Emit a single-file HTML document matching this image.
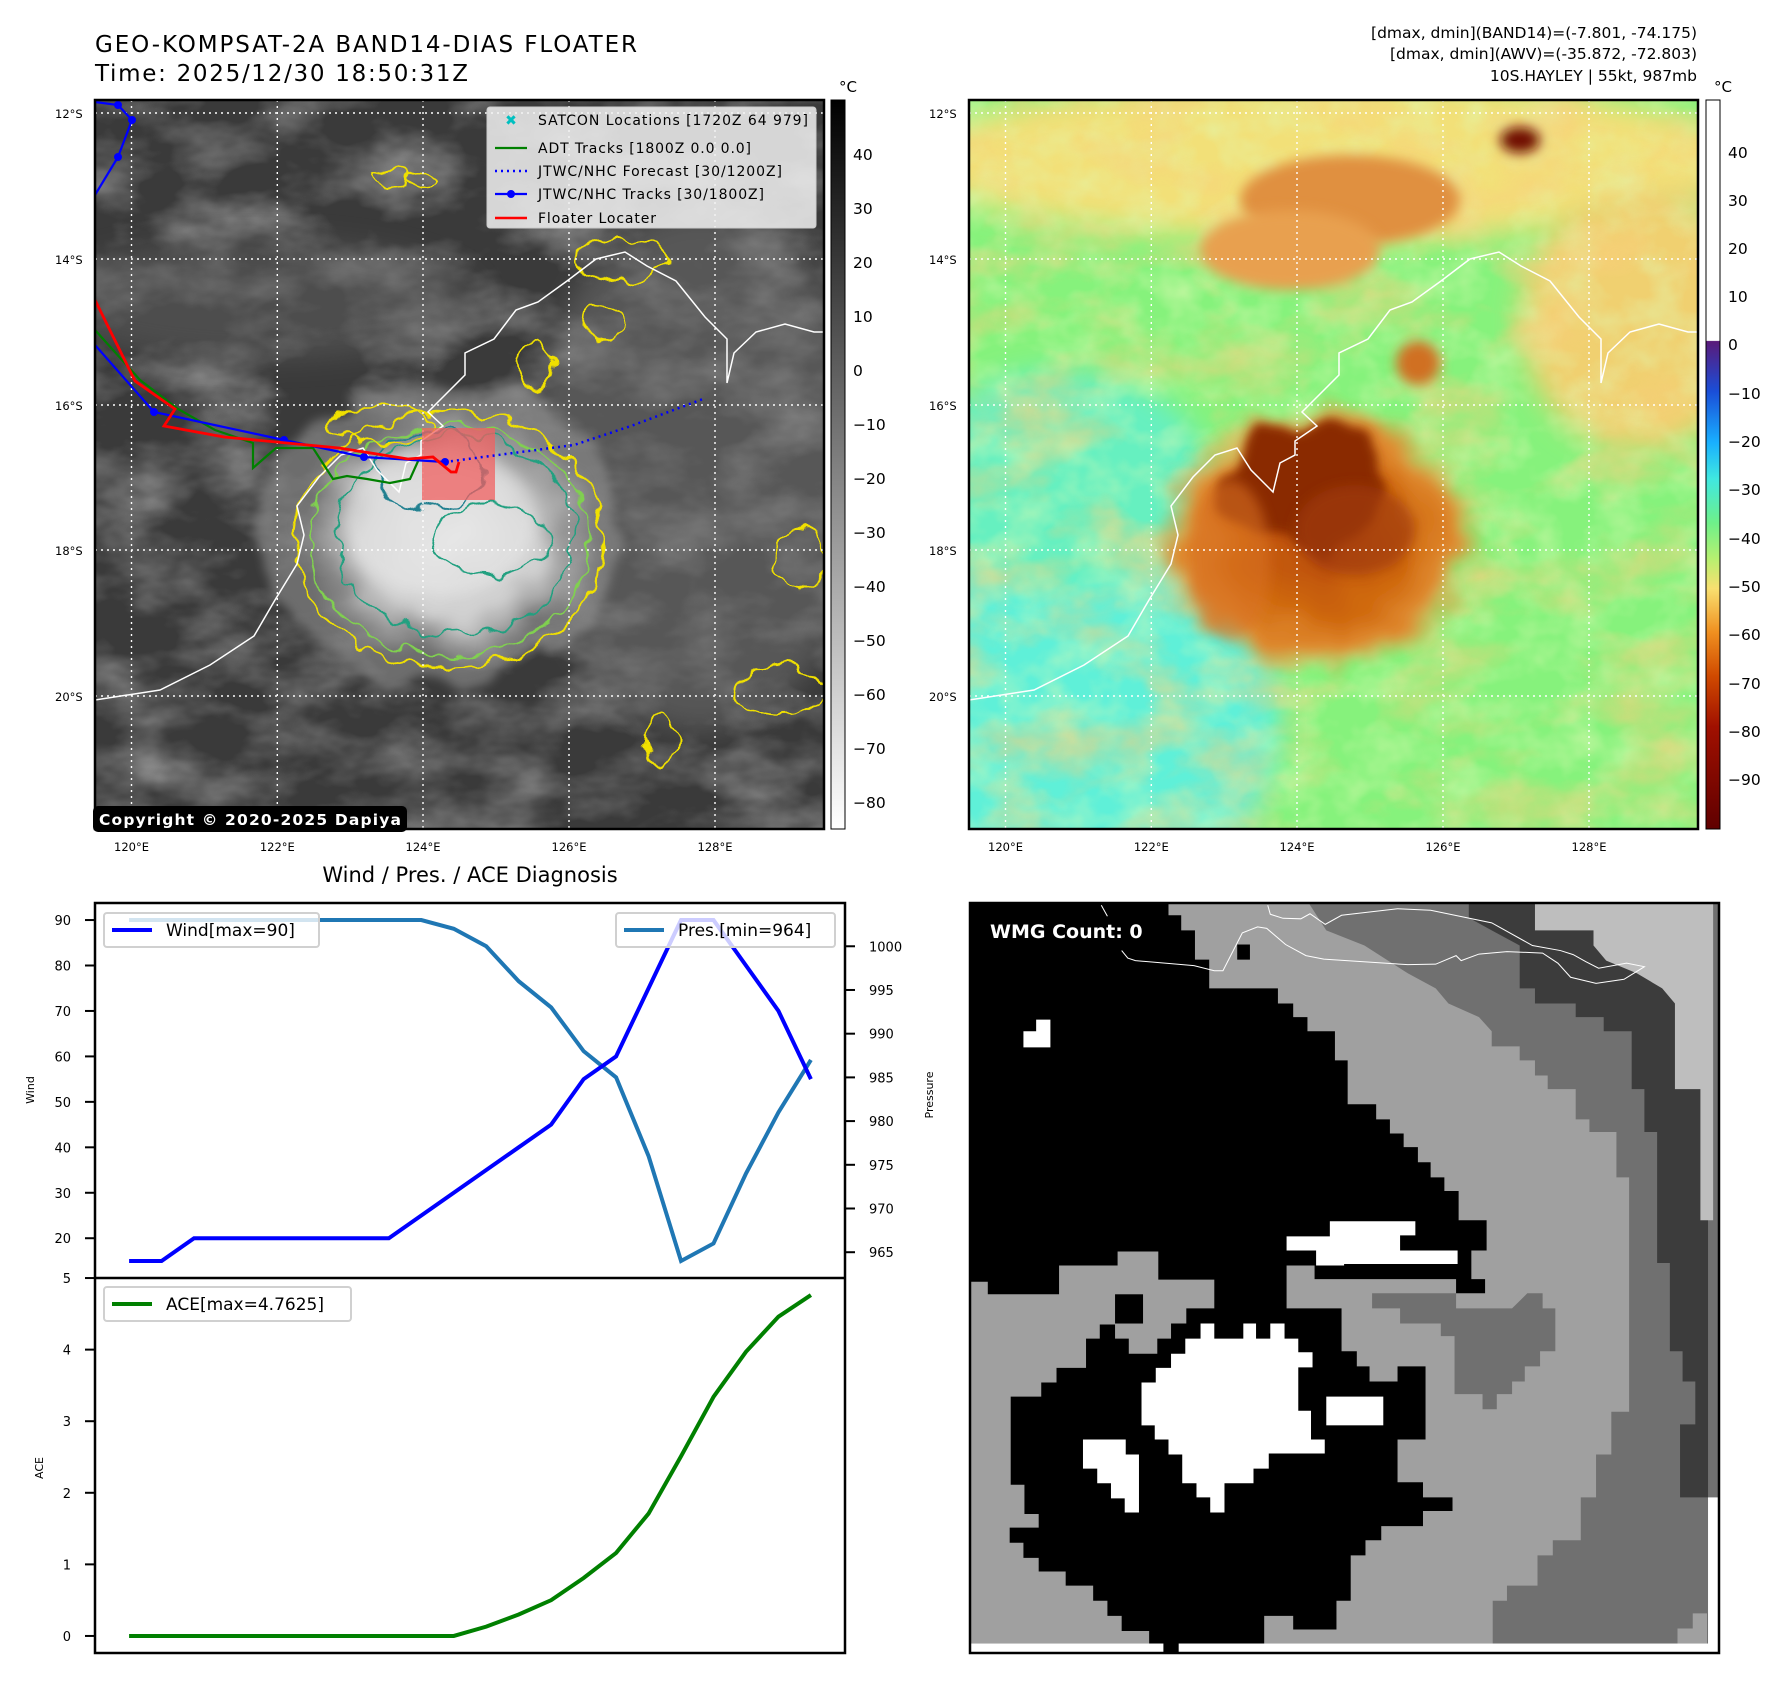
<!DOCTYPE html>
<html><head><meta charset="utf-8"><style>
html,body{margin:0;padding:0;background:#fff;}
svg{display:block;font-family:"DejaVu Sans","Liberation Sans",sans-serif;}
</style></head><body>
<svg id="root" width="1788" height="1690" viewBox="0 0 1788 1690" xmlns="http://www.w3.org/2000/svg">
<defs>
<clipPath id="cl"><rect x="95" y="100" width="729" height="729"/></clipPath>
<clipPath id="cr"><rect x="969" y="100" width="729" height="729"/></clipPath>
<filter id="noise" x="0" y="0" width="100%" height="100%"><feTurbulence type="fractalNoise" baseFrequency="0.011 0.02" numOctaves="4" seed="4"/><feColorMatrix type="matrix" values="0 0 0 0 1  0 0 0 0 1  0 0 0 0 1  1.6 0 0 0 -0.62"/></filter>
<filter id="noiseS" x="0" y="0" width="100%" height="100%"><feTurbulence type="fractalNoise" baseFrequency="0.03 0.04" numOctaves="3" seed="7"/><feColorMatrix type="matrix" values="0 0 0 0 0.55  0 0 0 0 0.55  0 0 0 0 0.55  1.4 0 0 0 -0.6"/></filter>
<filter id="noise2" x="0" y="0" width="100%" height="100%"><feTurbulence type="fractalNoise" baseFrequency="0.01 0.018" numOctaves="4" seed="9"/><feColorMatrix type="matrix" values="0 0 0 0 0.95  0 0 0 0 0.62  0 0 0 0 0.2  1.8 0 0 0 -0.78"/></filter>
<filter id="noise3" x="0" y="0" width="100%" height="100%"><feTurbulence type="fractalNoise" baseFrequency="0.025 0.03" numOctaves="3" seed="12"/><feColorMatrix type="matrix" values="0 0 0 0 0.75  0 0 0 0 0.95  0 0 0 0 0.45  1.6 0 0 0 -0.6"/></filter>
<filter id="blur" x="-50%" y="-50%" width="200%" height="200%"><feGaussianBlur stdDeviation="14"/></filter>
<filter id="blur2" x="-50%" y="-50%" width="200%" height="200%"><feGaussianBlur stdDeviation="6"/></filter>
<filter id="jag" x="-20%" y="-20%" width="140%" height="140%"><feTurbulence type="fractalNoise" baseFrequency="0.045" numOctaves="2" seed="2" result="t"/><feDisplacementMap in="SourceGraphic" in2="t" scale="22" xChannelSelector="R" yChannelSelector="G"/></filter>
<filter id="jagB" x="-60%" y="-60%" width="220%" height="220%"><feTurbulence type="fractalNoise" baseFrequency="0.02" numOctaves="2" seed="5" result="t"/><feDisplacementMap in="SourceGraphic" in2="t" scale="50" xChannelSelector="R" yChannelSelector="G" result="d"/><feGaussianBlur in="d" stdDeviation="5"/></filter>
<radialGradient id="stormL" cx="0.5" cy="0.5" r="0.5"><stop offset="0" stop-color="#e6e6e6"/><stop offset="0.6" stop-color="#cfcfcf"/><stop offset="1" stop-color="#b0b0b0" stop-opacity="0"/></radialGradient>
<radialGradient id="stormR" cx="0.5" cy="0.5" r="0.5"><stop offset="0" stop-color="#b84a08"/><stop offset="0.55" stop-color="#d06a10"/><stop offset="0.8" stop-color="#e08a30"/><stop offset="1" stop-color="#e8a040" stop-opacity="0"/></radialGradient>
<linearGradient id="cbL" x1="0" y1="0" x2="0" y2="1"><stop offset="0" stop-color="#000"/><stop offset="1" stop-color="#fff"/></linearGradient>
<linearGradient id="cbR" x1="0" y1="0" x2="0" y2="1">
<stop offset="0" stop-color="#fff"/><stop offset="0.33" stop-color="#fff"/><stop offset="0.331" stop-color="#5a1a7a"/>
<stop offset="0.40" stop-color="#1a4ed8"/><stop offset="0.47" stop-color="#19b0ff"/><stop offset="0.52" stop-color="#40e8e0"/>
<stop offset="0.58" stop-color="#6ef08a"/><stop offset="0.63" stop-color="#b8f070"/><stop offset="0.67" stop-color="#f8e070"/>
<stop offset="0.73" stop-color="#f09020"/><stop offset="0.79" stop-color="#d04a00"/><stop offset="0.86" stop-color="#a01000"/><stop offset="1" stop-color="#600000"/></linearGradient>
</defs>

<text x="95" y="52" font-size="23" textLength="542">GEO-KOMPSAT-2A BAND14-DIAS FLOATER</text>
<text x="95" y="81" font-size="23" textLength="373">Time: 2025/12/30 18:50:31Z</text>
<g font-size="15.5" text-anchor="end">
<text x="1697" y="38">[dmax, dmin](BAND14)=(-7.801, -74.175)</text>
<text x="1697" y="59">[dmax, dmin](AWV)=(-35.872, -72.803)</text>
<text x="1697" y="81">10S.HAYLEY | 55kt, 987mb</text>
</g>

<!-- LEFT MAP -->
<g clip-path="url(#cl)">
<rect x="95" y="100" width="729" height="729" fill="#3a3a3a"/>
<rect x="95" y="100" width="729" height="729" filter="url(#noise)" opacity="0.45"/>
<ellipse cx="700" cy="470" rx="170" ry="260" fill="#7a7a7a" opacity="0.45" filter="url(#blur)"/>
<ellipse cx="260" cy="300" rx="220" ry="60" fill="#6a6a6a" opacity="0.4" filter="url(#blur)"/>
<ellipse cx="440" cy="530" rx="185" ry="150" fill="#909090" opacity="0.6" filter="url(#jagB)"/>
<ellipse cx="448" cy="540" rx="150" ry="125" fill="url(#stormL)" filter="url(#jagB)"/>
<ellipse cx="440" cy="520" rx="95" ry="75" fill="#e8e8e8" opacity="0.5" filter="url(#blur2)"/>
<ellipse cx="448" cy="540" rx="190" ry="160" fill="#000" opacity="0" />
<g fill="none" filter="url(#jag)">
<ellipse cx="448" cy="540" rx="155" ry="128" stroke="#f0e000" stroke-width="2.2"/>
<ellipse cx="450" cy="540" rx="140" ry="115" stroke="#80d050" stroke-width="2"/>
<ellipse cx="455" cy="535" rx="120" ry="100" stroke="#20a080" stroke-width="2"/>
<ellipse cx="430" cy="470" rx="55" ry="40" stroke="#208090" stroke-width="2"/>
<ellipse cx="490" cy="540" rx="60" ry="35" stroke="#20a080" stroke-width="2"/>
<ellipse cx="620" cy="260" rx="45" ry="22" stroke="#f0e000" stroke-width="2"/>
<ellipse cx="800" cy="560" rx="25" ry="30" stroke="#f0e000" stroke-width="2"/>
<ellipse cx="780" cy="690" rx="45" ry="25" stroke="#f0e000" stroke-width="2"/>
<ellipse cx="660" cy="740" rx="15" ry="25" stroke="#f0e000" stroke-width="2"/>
<ellipse cx="535" cy="365" rx="20" ry="22" stroke="#f0e000" stroke-width="2"/>
<ellipse cx="605" cy="322" rx="18" ry="18" stroke="#f0e000" stroke-width="2"/>
<ellipse cx="390" cy="178" rx="18" ry="8" stroke="#f0e000" stroke-width="2"/>
<ellipse cx="420" cy="180" rx="14" ry="7" stroke="#f0e000" stroke-width="2"/>
<ellipse cx="380" cy="425" rx="50" ry="18" stroke="#f0e000" stroke-width="2"/>
</g>
<polyline fill="none" stroke="#fff" stroke-width="1.5" points="95,700 160,690 210,665 254,636 275,600 297,564 304,535 297,506 319,477 341,455 363,448 377,470 399,492 406,463 421,455 421,441 443,426 428,412 443,397 465,375 465,353 494,339 516,310 538,302 567,281 596,259 625,252 647,266 676,281 705,317 727,339 727,383 734,353 756,332 785,324 814,332 830,332"/>
<g stroke="#fff" stroke-width="1.4" stroke-dasharray="2,4">
<line x1="131.5" y1="100" x2="131.5" y2="829"/><line x1="277.3" y1="100" x2="277.3" y2="829"/><line x1="423" y1="100" x2="423" y2="829"/><line x1="569" y1="100" x2="569" y2="829"/><line x1="715" y1="100" x2="715" y2="829"/>
<line x1="95" y1="113" x2="824" y2="113"/><line x1="95" y1="259" x2="824" y2="259"/><line x1="95" y1="405" x2="824" y2="405"/><line x1="95" y1="550" x2="824" y2="550"/><line x1="95" y1="696" x2="824" y2="696"/>
</g>
<rect x="422" y="428" width="73" height="72" fill="#f06060" opacity="0.75"/>
<polyline fill="none" stroke="#008000" stroke-width="2.2" points="95,330 140,380 178,409 215,430 253,443 253,468 276,448 313,448 333,479 347,476 367,479 390,483 410,479 419,459"/>
<polyline fill="none" stroke="#0000ff" stroke-width="2.2" points="95,102 118,105 132,120 118,157 95,195"/>
<polyline fill="none" stroke="#0000ff" stroke-width="2.2" points="95,345 154,412 284,440 364,457 445,462"/>
<g fill="#0000ff"><circle cx="118" cy="105" r="4"/><circle cx="132" cy="120" r="4"/><circle cx="118" cy="157" r="4"/><circle cx="154" cy="412" r="4"/><circle cx="284" cy="440" r="4"/><circle cx="364" cy="457" r="4"/><circle cx="445" cy="462" r="4"/></g>
<polyline fill="none" stroke="#0000ff" stroke-width="2.5" stroke-dasharray="2,4" points="445,462 574,445 631,426 703,399"/>
<polyline fill="none" stroke="#ff0000" stroke-width="2.8" points="95,300 135,381 175,409 164,426 224,437 339,448 408,459 433,457 451,472 456,472 459,462"/>
</g>
<rect x="95" y="100" width="729" height="729" fill="none" stroke="#000" stroke-width="2.5"/>
<rect x="93" y="806" width="314" height="26" rx="5" fill="#000"/>
<text x="99" y="825" font-size="15.5" font-weight="bold" fill="#fff" textLength="302">Copyright © 2020-2025 Dapiya</text>
<g>
<rect x="487" y="107" width="329" height="121" rx="3" fill="#f2f2f2" fill-opacity="0.85" stroke="#ccc"/>
<g font-size="14">
<text x="511" y="125" fill="#00c0c0" font-size="14" text-anchor="middle">✖</text>
<text x="538" y="125" textLength="270">SATCON Locations [1720Z 64 979]</text>
<line x1="495" y1="148" x2="527" y2="148" stroke="#008000" stroke-width="2.2"/>
<text x="538" y="153" textLength="213">ADT Tracks [1800Z 0.0 0.0]</text>
<line x1="495" y1="171" x2="527" y2="171" stroke="#0000ff" stroke-width="2.5" stroke-dasharray="2,4"/>
<text x="538" y="176" textLength="244">JTWC/NHC Forecast [30/1200Z]</text>
<line x1="495" y1="194" x2="527" y2="194" stroke="#0000ff" stroke-width="2.2"/><circle cx="511" cy="194" r="4" fill="#0000ff"/>
<text x="538" y="199" textLength="226">JTWC/NHC Tracks [30/1800Z]</text>
<line x1="495" y1="218" x2="527" y2="218" stroke="#ff0000" stroke-width="2.5"/>
<text x="538" y="223" textLength="118">Floater Locater</text>
</g></g>
<g font-size="11.5">
<text x="55" y="118">12°S</text><text x="55" y="264">14°S</text><text x="55" y="410">16°S</text><text x="55" y="555">18°S</text><text x="55" y="701">20°S</text>
<g text-anchor="middle"><text x="131.5" y="851">120°E</text><text x="277.3" y="851">122°E</text><text x="423" y="851">124°E</text><text x="569" y="851">126°E</text><text x="715" y="851">128°E</text></g>
</g>
<rect x="831" y="100" width="14" height="729" fill="url(#cbL)" stroke="#000" stroke-width="1"/>
<text x="839" y="92" font-size="15">°C</text>
<g font-size="15.5">
<text x="853" y="160">40</text><text x="853" y="214">30</text><text x="853" y="268">20</text><text x="853" y="322">10</text><text x="853" y="376">0</text>
<text x="853" y="430">−10</text><text x="853" y="484">−20</text><text x="853" y="538">−30</text><text x="853" y="592">−40</text><text x="853" y="646">−50</text>
<text x="853" y="700">−60</text><text x="853" y="754">−70</text><text x="853" y="808">−80</text></g>

<!-- RIGHT MAP -->
<g clip-path="url(#cr)">
<rect x="969" y="100" width="729" height="729" fill="#86f27c"/>
<ellipse cx="1020" cy="720" rx="260" ry="220" fill="#5ef0d8" filter="url(#blur)"/>
<ellipse cx="1060" cy="480" rx="150" ry="110" fill="#66f0c0" filter="url(#blur)"/>
<ellipse cx="1330" cy="160" rx="420" ry="80" fill="#f2e078" filter="url(#blur)"/>
<ellipse cx="1640" cy="320" rx="120" ry="130" fill="#f0d070" filter="url(#blur)"/>
<rect x="969" y="100" width="729" height="729" filter="url(#noise3)" opacity="0.6"/>
<rect x="969" y="100" width="729" height="729" filter="url(#noise2)" opacity="0.8"/>
<ellipse cx="1350" cy="200" rx="110" ry="45" fill="#e09040" filter="url(#blur2)"/>
<ellipse cx="1290" cy="250" rx="90" ry="40" fill="#e8a050" filter="url(#blur2)"/>
<ellipse cx="1520" cy="140" rx="20" ry="13" fill="#700800" filter="url(#blur2)"/>
<ellipse cx="1418" cy="363" rx="22" ry="22" fill="#d07020" filter="url(#blur2)"/>
<ellipse cx="1320" cy="540" rx="165" ry="135" fill="url(#stormR)" filter="url(#jagB)"/>
<ellipse cx="1300" cy="485" rx="80" ry="60" fill="#8a2a04" filter="url(#jagB)"/>
<ellipse cx="1355" cy="530" rx="60" ry="45" fill="#a03a08" opacity="0.7" filter="url(#blur2)"/>
<ellipse cx="1230" cy="560" rx="40" ry="80" fill="#d87020" opacity="0.6" filter="url(#blur2)"/>
<polyline fill="none" stroke="#fff" stroke-width="1.5" points="969,700 1034,690 1084,665 1128,636 1149,600 1171,564 1178,535 1171,506 1193,477 1215,455 1237,448 1251,470 1273,492 1280,463 1295,455 1295,441 1317,426 1302,412 1317,397 1339,375 1339,353 1368,339 1390,310 1412,302 1441,281 1470,259 1499,252 1521,266 1550,281 1579,317 1601,339 1601,383 1608,353 1630,332 1659,324 1688,332 1704,332"/>
<g stroke="#fff" stroke-width="1.4" stroke-dasharray="2,4">
<line x1="1005.5" y1="100" x2="1005.5" y2="829"/><line x1="1151.3" y1="100" x2="1151.3" y2="829"/><line x1="1297" y1="100" x2="1297" y2="829"/><line x1="1443" y1="100" x2="1443" y2="829"/><line x1="1589" y1="100" x2="1589" y2="829"/>
<line x1="969" y1="113" x2="1698" y2="113"/><line x1="969" y1="259" x2="1698" y2="259"/><line x1="969" y1="405" x2="1698" y2="405"/><line x1="969" y1="550" x2="1698" y2="550"/><line x1="969" y1="696" x2="1698" y2="696"/>
</g></g>
<rect x="969" y="100" width="729" height="729" fill="none" stroke="#000" stroke-width="2.5"/>
<g font-size="11.5">
<text x="929" y="118">12°S</text><text x="929" y="264">14°S</text><text x="929" y="410">16°S</text><text x="929" y="555">18°S</text><text x="929" y="701">20°S</text>
<g text-anchor="middle"><text x="1005.5" y="851">120°E</text><text x="1151.3" y="851">122°E</text><text x="1297" y="851">124°E</text><text x="1443" y="851">126°E</text><text x="1589" y="851">128°E</text></g>
</g>
<rect x="1706" y="100" width="14" height="729" fill="url(#cbR)" stroke="#000" stroke-width="1"/>
<text x="1714" y="92" font-size="15">°C</text>
<g font-size="15.5">
<text x="1728" y="158">40</text><text x="1728" y="206">30</text><text x="1728" y="254">20</text><text x="1728" y="302">10</text><text x="1728" y="350">0</text>
<text x="1728" y="399">−10</text><text x="1728" y="447">−20</text><text x="1728" y="495">−30</text><text x="1728" y="544">−40</text><text x="1728" y="592">−50</text>
<text x="1728" y="640">−60</text><text x="1728" y="689">−70</text><text x="1728" y="737">−80</text><text x="1728" y="785">−90</text></g>

<!-- WMG panel -->
<g>
<g transform="translate(959.8,880) scale(0.509,0.504)">
<rect x="20" y="45" width="1472" height="1490" fill="#a0a0a0"/>
<polygon fill="#707070" points="685,45 720,100 795,130 880,185 935,215 960,245 1020,272 1045,300 1045,330 1100,330 1100,358 1130,358 1130,388 1155,388 1155,415 1210,415 1210,475 1237,475 1237,500 1290,500 1290,590 1315,590 1315,1055 1280,1055 1280,1140 1250,1140 1250,1225 1220,1225 1220,1310 1165,1310 1165,1340 1135,1340 1135,1400 1075,1400 1075,1430 1047,1430 1047,1515 1492,1515 1492,45"/>
<polygon fill="#3c3c3c" points="1000,45 1000,75 1045,100 1100,130 1100,215 1130,215 1130,245 1210,245 1210,272 1265,272 1265,300 1320,300 1320,415 1345,415 1345,500 1370,500 1370,760 1395,760 1395,935 1420,935 1420,995 1445,995 1445,1080 1415,1080 1415,1225 1470,1225 1470,45"/>
<polygon fill="#bebebe" points="1130,45 1130,100 1245,100 1245,130 1270,160 1330,185 1380,215 1405,245 1405,415 1455,415 1455,675 1480,675 1480,45"/>
<rect x="1470" y="1225" width="22" height="310" fill="#fff"/>
<polygon fill="#a0a0a0" points="1410,1515 1410,1485 1440,1485 1440,1455 1468,1455 1468,1515"/>
<rect x="20" y="1515" width="1472" height="20" fill="#fff"/>
<polygon fill="#707070" points="810,820 975,820 975,850 1085,850 1115,820 1145,820 1145,850 1170,850 1170,935 1140,935 1140,965 1110,965 1110,995 1085,995 1085,1020 1055,1020 1055,1050 1027,1050 1027,1020 972,1020 972,905 945,905 945,880 865,880 865,850 810,850"/>
<polygon fill="#000" points="20,45 410,45 410,70 435,70 435,100 462,100 462,158 490,158 490,215 625,215 625,245 655,245 655,272 683,272 683,300 737,300 737,358 762,358 762,445 818,445 818,475 845,475 845,503 872,503 872,530 900,530 900,560 925,560 925,590 952,590 952,617 980,617 980,675 1035,675 1035,735 1005,735 1005,792 1032,792 1032,820 975,820 975,792 697,792 697,765 642,765 642,850 750,850 750,935 780,935 780,965 805,965 805,995 860,995 860,965 915,965 915,1110 860,1110 860,1195 910,1195 910,1225 968,1225 968,1252 910,1252 910,1282 828,1282 828,1310 797,1310 797,1340 768,1340 768,1430 740,1430 740,1487 655,1487 655,1460 598,1460 598,1515 430,1515 430,1535 400,1535 400,1515 372,1515 372,1490 318,1490 318,1460 290,1460 290,1430 262,1430 262,1400 208,1400 208,1372 155,1372 155,1345 125,1345 125,1315 98,1315 98,1285 155,1285 155,1258 127,1258 127,1200 100,1200 100,1025 160,1025 160,997 190,997 190,968 248,968 248,910 275,910 275,882 305,882 305,910 332,910 332,940 388,940 388,910 415,910 415,880 445,880 445,850 500,850 500,793 390,793 390,737 310,737 310,765 195,765 195,822 55,822 55,797 20,797"/>
<rect x="305" y="822" width="55" height="58" fill="#000"/>
<rect x="545" y="128" width="25" height="30" fill="#000"/>
<g fill="#fff">
<polygon points="125,300 150,300 150,277 178,277 178,332 125,332"/>
<polygon points="727,677 895,677 895,705 865,705 865,735 978,735 978,762 755,762 755,765 700,765 700,735 642,735 642,707 727,707"/>
<polygon points="473,880 500,880 500,910 557,910 557,880 582,880 582,910 610,910 610,880 638,880 638,910 665,910 665,937 693,937 693,967 665,967 665,1053 690,1053 690,1110 717,1110 717,1138 607,1138 607,1168 577,1168 577,1197 520,1197 520,1255 492,1255 492,1225 465,1225 465,1197 437,1197 437,1140 410,1140 410,1110 383,1110 383,1082 357,1082 357,997 385,997 385,968 415,968 415,940 443,940 443,910 473,910"/>
<rect x="720" y="1025" width="112" height="57"/>
<polygon points="242,1110 326,1110 326,1140 352,1140 352,1255 324,1255 324,1227 297,1227 297,1197 270,1197 270,1168 242,1168"/>
</g>
<polyline fill="none" stroke="#fff" stroke-width="2" points="318,140 330,155 345,160 460,170 500,180 517,180 555,105 585,93 603,96 640,128 680,150 715,157 880,168 935,167 975,150 985,160 1020,147 1075,142 1145,145 1175,165 1200,193 1250,205 1305,197 1345,172 1310,165 1255,175 1230,162 1205,148 1180,140 1125,130 1045,85 925,60 860,57 750,70 718,88 688,67 670,77 635,76 610,68 605,50"/>
<polyline fill="none" stroke="#fff" stroke-width="2" points="278,50 290,72"/>
</g>
<text x="990" y="938" font-size="19" font-weight="bold" fill="#fff">WMG Count: 0</text>
<rect x="970" y="903" width="749" height="750" fill="none" stroke="#000" stroke-width="2.5"/>
</g>

<text x="470" y="882" font-size="21" text-anchor="middle">Wind / Pres. / ACE Diagnosis</text>
<g id="chart"></g>
</svg>
<script>
const windVals=[15,15,20,20,20,20,20,20,20,25,30,35,40,45,55,60,75,90,90,80,70,55];
const presVals=[1003,1003,1003,1003,1003,1003,1003,1003,1003,1003,1002,1000,996,993,988,985,976,964,966,974,981,987];
const aceVals=[0,0,0,0,0,0,0,0,0,0,0,0.13,0.3,0.5,0.81,1.16,1.71,2.51,3.34,3.97,4.46,4.7625];
const windTicks=[20,30,40,50,60,70,80,90];
const presTicks=[965,970,975,980,985,990,995,1000];
const aceTicks=[0,1,2,3,4,5];
const NS='http://www.w3.org/2000/svg';
const g=document.getElementById('chart');
const L=95,R=845,T1=903,B1=1278,T2=1278,B2=1653;
function mk(t,a,p){const e=document.createElementNS(NS,t);for(const k in a)e.setAttribute(k,a[k]);(p||g).appendChild(e);return e;}
function rng(v){const mn=Math.min(...v),mx=Math.max(...v),m=(mx-mn)*0.05;return [mn-m,mx+m];}
const n=windVals.length;const xm=(n-1)*0.05;
const X=i=>L+(i+xm)/((n-1)+2*xm)*(R-L);
const wr=rng(windVals),pr=rng(presVals),ar=rng(aceVals);
const Yw=v=>B1-(v-wr[0])/(wr[1]-wr[0])*(B1-T1);
const Yp=v=>B1-(v-pr[0])/(pr[1]-pr[0])*(B1-T1);
const Ya=v=>B2-(v-ar[0])/(ar[1]-ar[0])*(B2-T2);
function line(vals,Y,col,name){const e=mk('polyline',{points:vals.map((v,i)=>X(i)+','+Y(v)).join(' '),fill:'none',stroke:col,'stroke-width':4});

}
line(presVals,Yp,'#1f77b4','pressure-line');
line(windVals,Yw,'#0000ff','wind-line');
line(aceVals,Ya,'#008000','ace-line');
windTicks.forEach(t=>{const y=Yw(t);mk('line',{x1:L-10,x2:L,y1:y,y2:y,stroke:'#000','stroke-width':2});
const tx=mk('text',{x:L-24,y:y+5,'font-size':13,'text-anchor':'end'});tx.textContent=t;

});
presTicks.forEach(t=>{const y=Yp(t);mk('line',{x1:R,x2:R+10,y1:y,y2:y,stroke:'#000','stroke-width':2});
const tx=mk('text',{x:R+24,y:y+5,'font-size':13});tx.textContent=t;

});
aceTicks.forEach(t=>{const y=Ya(t);mk('line',{x1:L-10,x2:L,y1:y,y2:y,stroke:'#000','stroke-width':2});
const tx=mk('text',{x:L-24,y:y+5,'font-size':13,'text-anchor':'end'});tx.textContent=t;

});
mk('rect',{x:L,y:T1,width:R-L,height:B2-T1,fill:'none',stroke:'#000','stroke-width':2.5});
mk('line',{x1:L,x2:R,y1:T2,y2:T2,stroke:'#000','stroke-width':2.5});
let t=mk('text',{x:34,y:1090,'font-size':11,'text-anchor':'middle',transform:'rotate(-90 34 1090)'});t.textContent='Wind';


t=mk('text',{x:933,y:1095,'font-size':11,'text-anchor':'middle',transform:'rotate(-90 933 1095)'});t.textContent='Pressure';


t=mk('text',{x:43,y:1468,'font-size':11,'text-anchor':'middle',transform:'rotate(-90 43 1468)'});t.textContent='ACE';


function legend(x,y,w,col,label,name){const gg=mk('g',{});


mk('rect',{x:x,y:y,width:w,height:34,rx:3,fill:'#fff','fill-opacity':0.8,stroke:'#d0d0d0','stroke-width':2},gg);
mk('line',{x1:x+8,x2:x+48,y1:y+17,y2:y+17,stroke:col,'stroke-width':4},gg);
const tx=mk('text',{x:x+62,y:y+23,'font-size':17},gg);tx.textContent=label;}
legend(104,913,215,'#0000ff','Wind[max=90]','wind-legend');
legend(616,913,219,'#1f77b4','Pres.[min=964]','pressure-legend');
legend(104,1287,247,'#008000','ACE[max=4.7625]','ace-legend');
</script>
</body></html>
